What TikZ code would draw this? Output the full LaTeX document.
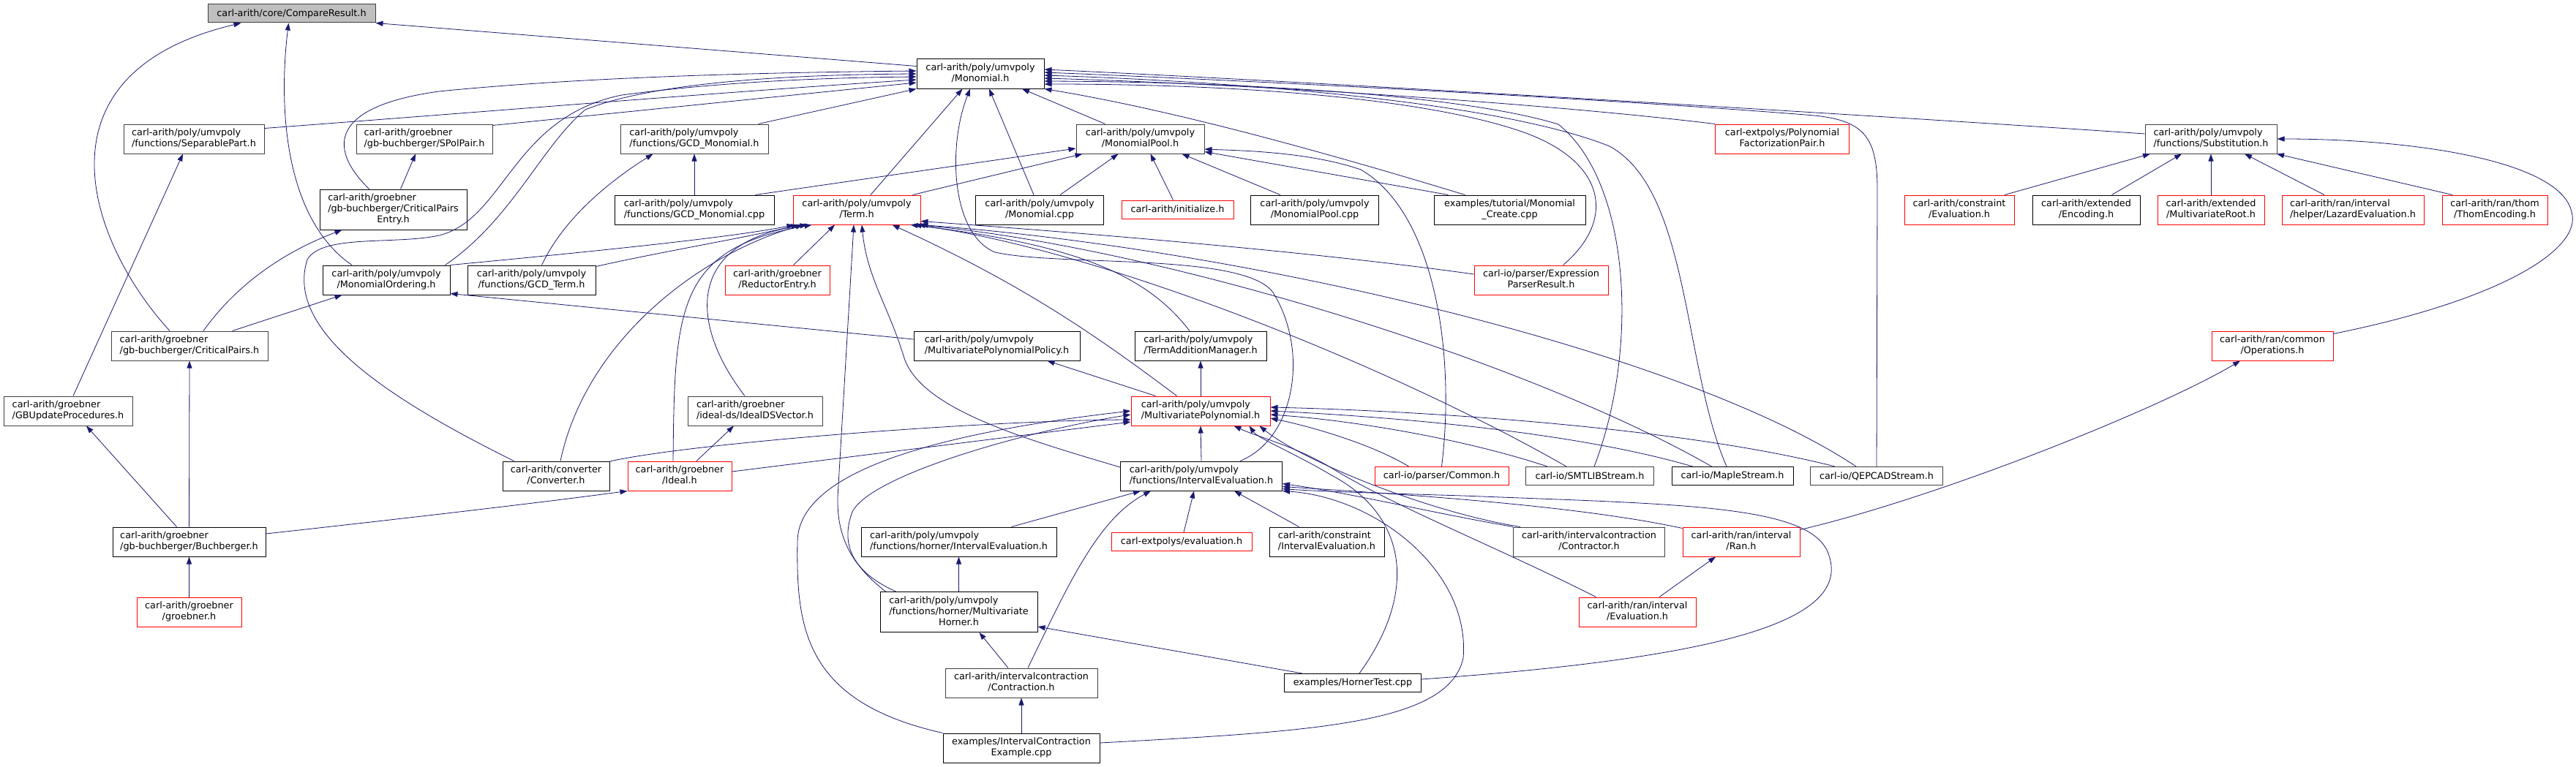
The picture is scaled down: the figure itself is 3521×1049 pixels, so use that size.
\documentclass[tikz,border=0pt]{standalone}
\usepackage{fontspec}
\setmainfont{DejaVu Sans}
\usetikzlibrary{arrows.meta, calc}
\definecolor{dxblue}{HTML}{191970}
\definecolor{dxgrey}{HTML}{404040}
\definecolor{dxroot}{HTML}{BFBFBF}
\newcommand{\nodefont}{\fontsize{12.8}{15}\selectfont}
% labels: upper lines flush left, last line centred
\newcommand{\fl}[2]{\begin{tabular}{@{}l@{}}#1\\\multicolumn{1}{@{}c@{}}{#2}\end{tabular}}
\newcommand{\fll}[3]{\begin{tabular}{@{}l@{}}#1\\#2\\\multicolumn{1}{@{}c@{}}{#3}\end{tabular}}

\begin{document}
\begin{tikzpicture}[x=1pt, y=-1pt,
  filebox/.style={draw=black, fill=white, line width=1pt, inner sep=0pt, minimum height=40, font=\nodefont},
  greybox/.style={filebox, draw=dxgrey},
  redbox/.style={filebox, draw=red},
  rootbox/.style={filebox, draw=dxgrey, fill=dxroot},
  oneline/.style={minimum height=25},
  threeline/.style={minimum height=55},
  incl/.style={draw=dxblue, line width=0.8pt, -{Triangle[length=10pt,width=7pt]}}]
  \useasboundingbox (0,0) rectangle (3521,1049);

  % Row 0 and 1
  \node[rootbox, oneline, minimum width=229] (cmp) at (398.5,18.5) {carl-arith/core/CompareResult.h};
  \node[filebox, minimum width=174] (mono) at (1340,101) {\fl{carl-arith/poly/umvpoly}{/Monomial.h}};
  % Row 2
  \node[greybox, minimum width=192] (sep) at (265,190) {\fl{carl-arith/poly/umvpoly}{/functions/SeparablePart.h}};
  \node[greybox, minimum width=186] (spol) at (580,190) {\fl{carl-arith/groebner}{/gb-buchberger/SPolPair.h}};
  \node[greybox, minimum width=202] (gcdm) at (949,190) {\fl{carl-arith/poly/umvpoly}{/functions/GCD\_Monomial.h}};
  \node[greybox, minimum width=175] (mpool) at (1558.5,190) {\fl{carl-arith/poly/umvpoly}{/MonomialPool.h}};
  \node[redbox, minimum width=183] (fpair) at (2436,190) {\fl{carl-extpolys/Polynomial}{FactorizationPair.h}};
  \node[greybox, minimum width=180] (subst) at (3022,190) {\fl{carl-arith/poly/umvpoly}{/functions/Substitution.h}};
  % Row 3
  \node[filebox, threeline, minimum width=201] (cpe) at (537.5,286.5) {\fll{carl-arith/groebner}{/gb-buchberger/CriticalPairs}{Entry.h}};
  \node[filebox, minimum width=218] (gcdcpp) at (949,287) {\fl{carl-arith/poly/umvpoly}{/functions/GCD\_Monomial.cpp}};
  \node[redbox, minimum width=174] (term) at (1171,287) {\fl{carl-arith/poly/umvpoly}{/Term.h}};
  \node[filebox, minimum width=175] (monocpp) at (1421,287) {\fl{carl-arith/poly/umvpoly}{/Monomial.cpp}};
  \node[redbox, oneline, minimum width=153] (init) at (1609.5,286.5) {carl-arith/initialize.h};
  \node[filebox, minimum width=175] (mpoolcpp) at (1797,287) {\fl{carl-arith/poly/umvpoly}{/MonomialPool.cpp}};
  \node[filebox, minimum width=207] (mcreate) at (2063.5,287) {\fl{examples/tutorial/Monomial}{\_Create.cpp}};
  \node[redbox, minimum width=150] (ceval) at (2678,287) {\fl{carl-arith/constraint}{/Evaluation.h}};
  \node[filebox, minimum width=147] (enc) at (2851.5,287) {\fl{carl-arith/extended}{/Encoding.h}};
  \node[redbox, minimum width=146] (mvroot) at (3022,287) {\fl{carl-arith/extended}{/MultivariateRoot.h}};
  \node[redbox, minimum width=194] (lazard) at (3216,287) {\fl{carl-arith/ran/interval}{/helper/LazardEvaluation.h}};
  \node[redbox, minimum width=144] (thom) at (3410,287) {\fl{carl-arith/ran/thom}{/ThomEncoding.h}};
  % Row 4
  \node[filebox, minimum width=174] (mord) at (528,383) {\fl{carl-arith/poly/umvpoly}{/MonomialOrdering.h}};
  \node[filebox, minimum width=175] (gcdt) at (726.5,383) {\fl{carl-arith/poly/umvpoly}{/functions/GCD\_Term.h}};
  \node[redbox, minimum width=143] (redent) at (1062.5,383) {\fl{carl-arith/groebner}{/ReductorEntry.h}};
  \node[redbox, minimum width=183] (epr) at (2106.5,383) {\fl{carl-io/parser/Expression}{ParserResult.h}};
  % Row 5
  \node[greybox, minimum width=214] (cpairs) at (259,473) {\fl{carl-arith/groebner}{/gb-buchberger/CriticalPairs.h}};
  \node[filebox, minimum width=227] (policy) at (1362.5,473) {\fl{carl-arith/poly/umvpoly}{/MultivariatePolynomialPolicy.h}};
  \node[filebox, minimum width=180] (tam) at (1641,473) {\fl{carl-arith/poly/umvpoly}{/TermAdditionManager.h}};
  \node[redbox, minimum width=166] (ops) at (3106,473) {\fl{carl-arith/ran/common}{/Operations.h}};
  % Row 6
  \node[greybox, minimum width=176] (gbup) at (93,562) {\fl{carl-arith/groebner}{/GBUpdateProcedures.h}};
  \node[greybox, minimum width=184] (idsv) at (1032,562) {\fl{carl-arith/groebner}{/ideal-ds/IdealDSVector.h}};
  \node[redbox, minimum width=190] (mvp) at (1641,562) {\fl{carl-arith/poly/umvpoly}{/MultivariatePolynomial.h}};
  % Row 7
  \node[filebox, minimum width=146] (conv) at (760,651) {\fl{carl-arith/converter}{/Converter.h}};
  \node[redbox, minimum width=142] (ideal) at (929,651) {\fl{carl-arith/groebner}{/Ideal.h}};
  \node[filebox, minimum width=221] (ieval) at (1642,651) {\fl{carl-arith/poly/umvpoly}{/functions/IntervalEvaluation.h}};
  \node[redbox, oneline, minimum width=183] (common) at (1970.5,651) {carl-io/parser/Common.h};
  \node[greybox, oneline, minimum width=175] (smtlib) at (2173,651) {carl-io/SMTLIBStream.h};
  \node[filebox, oneline, minimum width=166] (maple) at (2368,651) {carl-io/MapleStream.h};
  \node[greybox, oneline, minimum width=181] (qepcad) at (2565,651) {carl-io/QEPCADStream.h};
  % Row 8
  \node[filebox, minimum width=209] (buch) at (258.5,741) {\fl{carl-arith/groebner}{/gb-buchberger/Buchberger.h}};
  \node[filebox, minimum width=267] (hieval) at (1310.5,741) {\fl{carl-arith/poly/umvpoly}{/functions/horner/IntervalEvaluation.h}};
  \node[redbox, oneline, minimum width=192] (extev) at (1615,741) {carl-extpolys/evaluation.h};
  \node[filebox, minimum width=157] (cieval) at (1813.5,741) {\fl{carl-arith/constraint}{/IntervalEvaluation.h}};
  \node[greybox, minimum width=207] (contr) at (2172,741) {\fl{carl-arith/intervalcontraction}{/Contractor.h}};
  \node[redbox, minimum width=160] (ran) at (2380,741) {\fl{carl-arith/ran/interval}{/Ran.h}};
  % Row 9 to 11
  \node[redbox, minimum width=143] (groeb) at (258.5,837) {\fl{carl-arith/groebner}{/groebner.h}};
  \node[filebox, threeline, minimum width=215] (mvh) at (1310.5,837) {\fll{carl-arith/poly/umvpoly}{/functions/horner/Multivariate}{Horner.h}};
  \node[redbox, minimum width=160] (reval) at (2238,837) {\fl{carl-arith/ran/interval}{/Evaluation.h}};
  \node[greybox, minimum width=208] (contraction) at (1396,934) {\fl{carl-arith/intervalcontraction}{/Contraction.h}};
  \node[filebox, oneline, minimum width=187] (htest) at (1849,934) {examples/HornerTest.cpp};
  \node[filebox, minimum width=214] (icex) at (1396,1023) {\fl{examples/IntervalContraction}{Example.cpp}};

  % into CompareResult.h
  \draw[incl] ($(mono.north west)+(0,10)$) -- (cmp.south east);
  \draw[incl] ($(mord.north)+(-47,0)$) .. controls (390,300) and (380,150) .. ($(cmp.south)+(-4,0)$);
  \draw[incl] ($(cpairs.north)+(-27,0)$) .. controls (120,330) and (40,100) .. ($(cmp.south west)+(46,0)$);

  % into Monomial.h
  \draw[incl] ($(sep.north east)+(0,6)$) .. controls (700,150) and (1000,125) .. ($(mono.west)+(0,8)$);
  \draw[incl] ($(spol.north east)+(0,2)$) -- ($(mono.west)+(0,12)$);
  \draw[incl] ($(cpe.north)+(-33,0)$) .. controls (445,200) and (455,145) .. (600,125) .. controls (800,105) and (1050,99) .. ($(mono.west)+(0,-4)$);
  \draw[incl] ($(gcdm.north east)+(-14,0)$) -- (mono.south west);
  \draw[incl] ($(mord.north east)+(-7,0)$) .. controls (700,300) and (740,200) .. (800,150) .. controls (900,110) and (1100,102) .. (mono.west);
  \draw[incl] ($(conv.north west)+(16,0)$) .. controls (520,540) and (390,450) .. (420,355) .. controls (440,320) and (540,335) .. (600,322) .. controls (690,300) and (700,160) .. (850,130) .. controls (1000,110) and (1150,106) .. ($(mono.west)+(0,4)$);
  \draw[incl] ($(term.north)+(19,0)$) -- ($(mono.south west)+(63,0)$);
  \draw[incl] ($(monocpp.north)+(-8,0)$) -- ($(mono.south)+(12,0)$);
  \draw[incl] ($(mpool.north)+(-48,0)$) -- ($(mono.south)+(57,0)$);
  \draw[incl] ($(mcreate.north)+(-61,0)$) .. controls (1800,205) and (1600,150) .. (mono.south east);
  \draw[incl] (fpair.north west) .. controls (2100,140) and (1700,115) .. ($(mono.east)+(0,6)$);
  \draw[incl] ($(subst.west)+(0,-7)$) .. controls (2600,160) and (1800,112) .. ($(mono.east)+(0,-6)$);
  \draw[incl] (qepcad.north) -- (2566,260) .. controls (2566,190) and (2550,165) .. (2480,158) .. controls (2200,135) and (1700,110) .. ($(mono.east)+(0,-2)$);
  \draw[incl] ($(maple.north)+(-8,0)$) .. controls (2300,500) and (2310,260) .. (2200,200) .. controls (2050,140) and (1700,112) .. ($(mono.east)+(0,2)$);
  \draw[incl] ($(smtlib.north)+(6,0)$) .. controls (2240,480) and (2230,250) .. (2130,170) .. controls (2000,130) and (1700,112) .. ($(mono.east)+(0,10)$);
  \draw[incl] ($(epr.north)+(30,0)$) .. controls (2210,300) and (2195,220) .. (2080,180) .. controls (1950,135) and (1700,115) .. ($(mono.east)+(0,14)$);
  \draw[incl] ($(ieval.north east)+(-58,0)$) .. controls (1770,600) and (1790,480) .. (1740,400) .. controls (1700,345) and (1450,365) .. (1360,345) .. controls (1300,320) and (1295,200) .. ($(mono.south)+(-14,0)$);

  % into the second row
  \draw[incl] ($(cpe.north)+(10,0)$) -- ($(spol.south)+(-12,0)$);
  \draw[incl] ($(gbup.north)+(7,0)$) -- ($(sep.south)+(-15,0)$);
  \draw[incl] ($(cpairs.north)+(19,0)$) .. controls (330,380) and (400,340) .. ($(cpe.south)+(-70,0)$);
  \draw[incl] ($(gcdt.north)+(14,0)$) .. controls (770,300) and (830,250) .. ($(gcdm.south west)+(45,0)$);
  \draw[incl] ($(gcdcpp.north east)+(-26,0)$) -- ($(mpool.west)+(0,13)$);
  \draw[incl] ($(term.north east)+(-11,0)$) -- ($(mpool.south west)+(9,0)$);
  \draw[incl] ($(monocpp.north east)+(-60,0)$) -- ($(mpool.south west)+(58,0)$);
  \draw[incl] ($(init.north)+(-6,0)$) -- ($(mpool.south)+(14,0)$);
  \draw[incl] ($(mpoolcpp.north)+(-47,0)$) -- ($(mpool.south east)+(-31,0)$);
  \draw[incl] ($(mcreate.north)+(-84,0)$) -- ($(mpool.south east)+(0,-3)$);
  \draw[incl] (common.north) .. controls (1990,480) and (1960,290) .. (1860,232) .. controls (1790,208) and (1700,206) .. ($(mpool.east)+(0,14)$);
  \foreach \n/\a/\b in {ceval/62/-83, enc/35/-40, mvroot/0/0, lazard/-39/46, thom/-58/90}
    \draw[incl] ($(\n.north)+(\a,0)$) -- ($(subst.south)+(\b,0)$);
  \draw[incl] ($(ops.north east)+(0,4)$) .. controls (3420,410) and (3530,340) .. (3515,290) .. controls (3500,220) and (3300,190) .. (subst.east);

  % straight up
  \foreach \a/\b in {gcdcpp/gcdm, buch/cpairs, groeb/buch, mvp/tam, ieval/mvp, mvh/hieval, icex/contraction}
    \draw[incl] (\a.north) -- (\b.south);
  \draw[incl] ($(cpairs.north east)+(-49,0)$) -- ($(mord.south west)+(27,0)$);
  \draw[incl] ($(policy.west)+(0,-9)$) -- ($(mord.south east)+(0,-2)$);
  \draw[incl] ($(buch.north)+(-17,0)$) -- ($(gbup.south)+(25,0)$);
  \draw[incl] ($(buch.east)+(0,-11)$) .. controls (500,715) and (720,690) .. (ideal.south west);
  \draw[incl] ($(ideal.north)+(23,0)$) -- ($(idsv.south)+(-29,0)$);

  % into Term.h
  \draw[incl] (mord.north east) .. controls (800,345) and (1000,325) .. ($(term.south west)+(2,0)$);
  \draw[incl] ($(gcdt.north east)+(0,2)$) .. controls (900,345) and (1020,325) .. ($(term.south west)+(8,0)$);
  \draw[incl] ($(conv.north)+(6,0)$) .. controls (800,470) and (950,350) .. ($(term.south west)+(14,0)$);
  \draw[incl] ($(idsv.north)+(-14,0)$) .. controls (940,440) and (940,330) .. ($(term.south west)+(20,0)$);
  \draw[incl] ($(ideal.north)+(-9,0)$) .. controls (922,420) and (925,340) .. ($(term.south west)+(26,0)$);
  \draw[incl] ($(redent.north)+(22,0)$) -- ($(term.south)+(-30,0)$);
  \draw[incl] ($(mvh.north west)+(8,0)$) .. controls (1160,770) and (1144,730) .. (1145,680) -- ($(term.south)+(-4,0)$);
  \draw[incl] ($(ieval.west)+(0,-12)$) .. controls (1400,600) and (1260,560) .. (1236,490) .. controls (1215,420) and (1185,380) .. ($(term.south)+(7,0)$);
  \draw[incl] ($(mvp.north west)+(63,0)$) .. controls (1500,460) and (1400,390) .. ($(term.south east)+(-39,0)$);
  \draw[incl] ($(tam.north)+(-15,0)$) .. controls (1570,380) and (1480,335) .. ($(term.south east)+(-14,0)$);
  \draw[incl] ($(smtlib.north west)+(56,0)$) .. controls (1900,500) and (1500,340) .. ($(term.south east)+(-9,0)$);
  \draw[incl] ($(maple.north west)+(55,0)$) .. controls (2100,500) and (1600,340) .. ($(term.south east)+(-4,0)$);
  \draw[incl] ($(qepcad.north west)+(63,0)$) .. controls (2300,480) and (1700,340) .. (term.south east);
  \draw[incl] ($(epr.west)+(0,-8)$) .. controls (1800,345) and (1500,320) .. ($(term.south east)+(0,-5)$);

  % into MultivariatePolynomial.h
  \draw[incl] ($(conv.east)+(0,-20)$) .. controls (950,605) and (1350,575) .. ($(mvp.west)+(0,12)$);
  \draw[incl] ($(ideal.east)+(0,-6)$) -- ($(mvp.west)+(0,15)$);
  \draw[incl] (icex.north west) .. controls (1100,960) and (1088,860) .. (1090,740) .. controls (1092,640) and (1300,590) .. (mvp.west);
  \draw[incl] ($(mvh.north west)+(22,0)$) .. controls (1160,780) and (1150,740) .. (1165,700) .. controls (1190,650) and (1400,590) .. ($(mvp.west)+(0,5)$);
  \draw[incl] ($(common.north west)+(47,0)$) .. controls (1880,610) and (1800,585) .. ($(mvp.east)+(0,10)$);
  \draw[incl] ($(smtlib.north west)+(30,0)$) .. controls (2000,600) and (1850,575) .. ($(mvp.east)+(0,5)$);
  \draw[incl] ($(maple.north west)+(29,0)$) .. controls (2150,590) and (1900,570) .. (mvp.east);
  \draw[incl] ($(qepcad.north west)+(34,0)$) .. controls (2300,585) and (1950,562) .. ($(mvp.east)+(0,-5)$);
  \draw[incl] ($(contr.north west)+(10,0)$) .. controls (1950,700) and (1780,630) .. ($(mvp.south east)+(-15,0)$);
  \draw[incl] ($(htest.north)+(9,0)$) .. controls (1945,800) and (1915,700) .. (1820,650) .. controls (1770,620) and (1720,600) .. ($(mvp.south east)+(-29,0)$);
  \draw[incl] ($(reval.north west)+(24,0)$) .. controls (2050,750) and (1900,690) .. (1820,640) .. controls (1770,610) and (1720,598) .. ($(mvp.south east)+(-50,0)$);
  \draw[incl] ($(mvp.north west)+(34,0)$) -- ($(policy.south east)+(-45,0)$);

  % into functions/IntervalEvaluation.h
  \draw[incl] ($(hieval.north)+(72,0)$) -- ($(ieval.south west)+(28,0)$);
  \draw[incl] ($(contraction.north)+(9,0)$) .. controls (1460,800) and (1500,710) .. ($(ieval.south west)+(42,0)$);
  \draw[incl] ($(extev.north)+(3,0)$) -- ($(ieval.south)+(-10,0)$);
  \draw[incl] ($(cieval.north)+(-38,0)$) -- ($(ieval.south)+(45,0)$);
  \draw[incl] (contr.north west) .. controls (1950,700) and (1850,675) .. ($(ieval.south east)+(0,-10)$);
  \draw[incl] ($(ran.north west)+(0,2)$) .. controls (2150,690) and (1900,675) .. ($(ieval.south east)+(0,-6)$);
  \draw[incl] ($(htest.east)+(0,-5)$) .. controls (2350,900) and (2530,850) .. (2500,760) .. controls (2480,690) and (2300,690) .. (2000,678) .. controls (1900,675) and (1800,672) .. ($(ieval.south east)+(0,-3)$);
  \draw[incl] ($(icex.east)+(0,-7)$) .. controls (1800,1000) and (1980,990) .. (2000,900) .. controls (2010,780) and (1880,680) .. (ieval.south east);

  % bottom rows
  \draw[incl] ($(contraction.north)+(-18,0)$) -- ($(mvh.south)+(28,0)$);
  \draw[incl] ($(htest.north west)+(25,0)$) -- ($(mvh.east)+(0,20)$);
  \draw[incl] ($(reval.north)+(30,0)$) -- ($(ran.south)+(-35,0)$);
  \draw[incl] ($(ran.north east)+(0,4)$) .. controls (2650,680) and (2950,560) .. ($(ops.south)+(-44,0)$);
\end{tikzpicture}
\end{document}
